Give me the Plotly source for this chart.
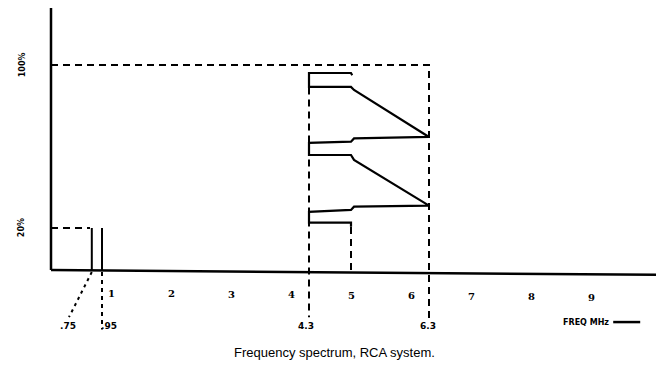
import plotly.graph_objects as go

# ---- data (MHz on x, relative amplitude % on y) ----
tick_vals = [1, 2, 3, 4, 5, 6, 7, 8, 9]
tick_text = ["1", "2", "3", "4", "5", "6", "7", "8", "9"]

level_vals = [100, 20.5]
level_text = ["100%", "20%"]

# low-frequency (colour) channel
low_lines_x = [0.68, 0.85]
low_level = 20.5
low_box_end = 0.65

# RCA high-band channel outline
rca_x = [5.02, 5.0, 4.3, 4.3, 5.0, 5.05, 6.3, 5.05, 5.0, 4.3, 4.3, 5.0, 5.05, 6.3, 5.05, 5.0, 4.3, 4.3, 5.0, 5.0]
rca_y = [95.0, 96.1, 96.1, 89.3, 89.3, 87.8, 64.9, 64.2, 62.6, 62.0, 56.1, 56.1, 53.7, 31.4, 30.9, 29.3, 28.4, 23.1, 23.1, 21.1]

band_edges = [4.3, 5.0, 6.3]
top_level = 100

mark_text = [".75", ".95", "4.3", "6.3"]
mark_x = [0.28, 0.97, 4.25, 6.28]

x_title = "FREQ MHz"
caption = "Frequency spectrum, RCA system."

# ---- figure ----
K = "black"
fig = go.Figure()

def line(xs, ys, dash=None, width=2):
    fig.add_trace(go.Scatter(x=xs, y=ys, mode="lines", hoverinfo="skip",
                             line=dict(color=K, width=width, dash=dash)))

# axes (hand drawn)
line([0, 0], [0, 127.8], width=2.5)
line([0, 10.22], [0, -2.4], width=2.5)

# 100% dashed reference box
line([0, band_edges[2], band_edges[2]], [top_level, top_level, -24], dash="7px,5px")
# band-edge dashed lines
line([band_edges[0], band_edges[0]], [89, -23], dash="7px,5px")
line([band_edges[1], band_edges[1]], [21, 0], dash="7px,5px")

# low-frequency box and lines
line([0, low_box_end], [low_level, low_level], dash="7px,5px")
for lx in low_lines_x:
    line([lx, lx], [0, low_level], width=2)
# leader lines to labels
line([low_lines_x[0], 0.3], [-1, -23], dash="3px,4px")
line([low_lines_x[1], low_lines_x[1]], [-1, -29], dash="4px,4px")

# RCA outline
line(rca_x, rca_y, width=2.2)

# arrow after axis title
line([9.37, 9.82], [-25.4, -25.4], width=2.5)

ann = []
for v, t in zip(tick_vals, tick_text):
    ann.append(dict(x=v, y=-11 - 0.25 * v, text="<b>" + t + "</b>", showarrow=False,
                    font=dict(size=10, family="DejaVu Serif", color=K)))
for v, t in zip(level_vals, level_text):
    ann.append(dict(x=-0.48, y=v, text="<b>" + t + "</b>", showarrow=False, textangle=-90,
                    font=dict(size=8, family="DejaVu Sans", color=K)))
for v, t in zip(mark_x, mark_text):
    ann.append(dict(x=v, y=-27.5, text="<b>" + t + "</b>", showarrow=False,
                    font=dict(size=9, family="DejaVu Sans", color=K)))
ann.append(dict(x=8.92, y=-25.4, text="<b>" + x_title + "</b>", showarrow=False,
                font=dict(size=8, family="DejaVu Sans", color=K)))
ann.append(dict(x=4.73, y=-40, text=caption, showarrow=False,
                font=dict(size=13, family="Liberation Sans", color=K)))

# the page body has an 8px margin, so the ranges are shifted to compensate
fig.update_layout(
    width=664, height=386,
    margin=dict(l=0, r=0, t=0, b=0),
    paper_bgcolor="white", plot_bgcolor="white",
    showlegend=False,
    xaxis=dict(range=[-43 / 60, 621 / 60], visible=False, fixedrange=True),
    yaxis=dict(range=[-124 / 2.05, 262 / 2.05], visible=False, fixedrange=True),
    annotations=ann,
)

fig.write_html("out.html")
